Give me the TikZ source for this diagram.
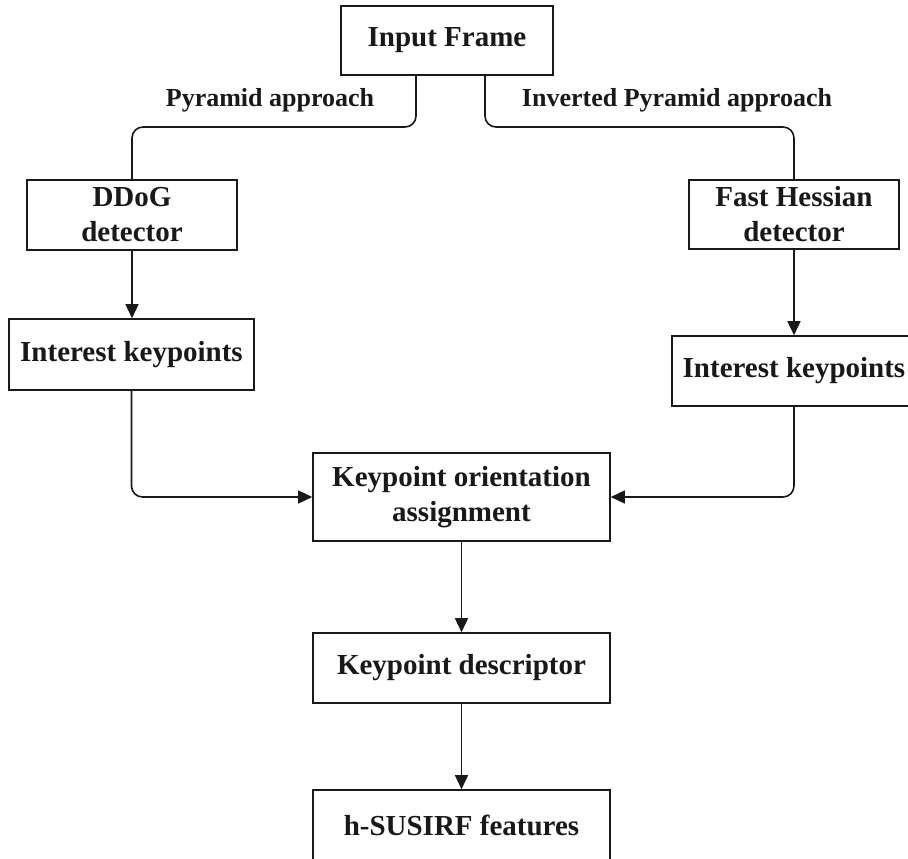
\documentclass[tikz,border=0pt]{standalone}
\usepackage{fontspec}
\setmainfont{Liberation Serif}
\usetikzlibrary{arrows.meta}
\begin{document}
\begin{tikzpicture}[x=1pt,y=-1pt,
  box/.style={draw=black!90, line width=1.6pt, fill=white, align=center, inner sep=0pt,
    font=\fontsize{29}{35}\selectfont\bfseries, text=black!90},
  lbl/.style={font=\fontsize{26}{30}\selectfont\bfseries, text=black!90, inner sep=0pt},
  conn/.style={draw=black!90, line width=1.6pt, rounded corners=11pt},
  arr/.style={conn, -{Triangle[length=14pt,width=13pt]}}]
\clip (0,0) rectangle (908,859);
\fill[white] (0,0) rectangle (908,859);
\node[box, minimum width=212pt, minimum height=69pt] (inp) at (447,40.5) {Input Frame};
\node[box, minimum width=210pt, minimum height=70pt] (ddog) at (132,215) {DDoG\\detector};
\node[box, minimum width=245pt, minimum height=71pt] (ik1) at (131.5,354.5) {Interest keypoints};
\node[box, minimum width=210pt, minimum height=69pt] (fh) at (794,214.5) {Fast Hessian\\detector};
\node[box, minimum width=244pt, minimum height=70pt] (ik2) at (794,371) {Interest keypoints};
\node[box, minimum width=297pt, minimum height=88pt] (ko) at (461.5,497) {Keypoint orientation\\assignment};
\node[box, minimum width=297pt, minimum height=70pt] (kd) at (461.5,668) {Keypoint descriptor};
\node[box, minimum width=297pt, minimum height=70pt] (hs) at (461.5,825) {h-SUSIRF features};
\node[lbl] (l1) at (270,100) {Pyramid approach};
\node[lbl] (l2) at (677,100) {Inverted Pyramid approach};
\coordinate (a1) at ([xshift=-31pt]inp.south);
\coordinate (a2) at ([xshift=38pt]inp.south);
\draw[conn] (a1) -- (a1 |- 0,127) -| (ddog.north);
\draw[conn] (a2) -- (a2 |- 0,127) -| (fh.north);
\draw[arr] (ddog.south) -- (ddog.south |- ik1.north);
\draw[arr] (fh.south) -- (fh.south |- ik2.north);
\draw[arr] (ik1.south) |- (ko.west);
\draw[arr] (ik2.south) |- (ko.east);
\draw[arr] (ko.south) -- (kd.north);
\draw[arr] (kd.south) -- (hs.north);
\end{tikzpicture}
\end{document}
